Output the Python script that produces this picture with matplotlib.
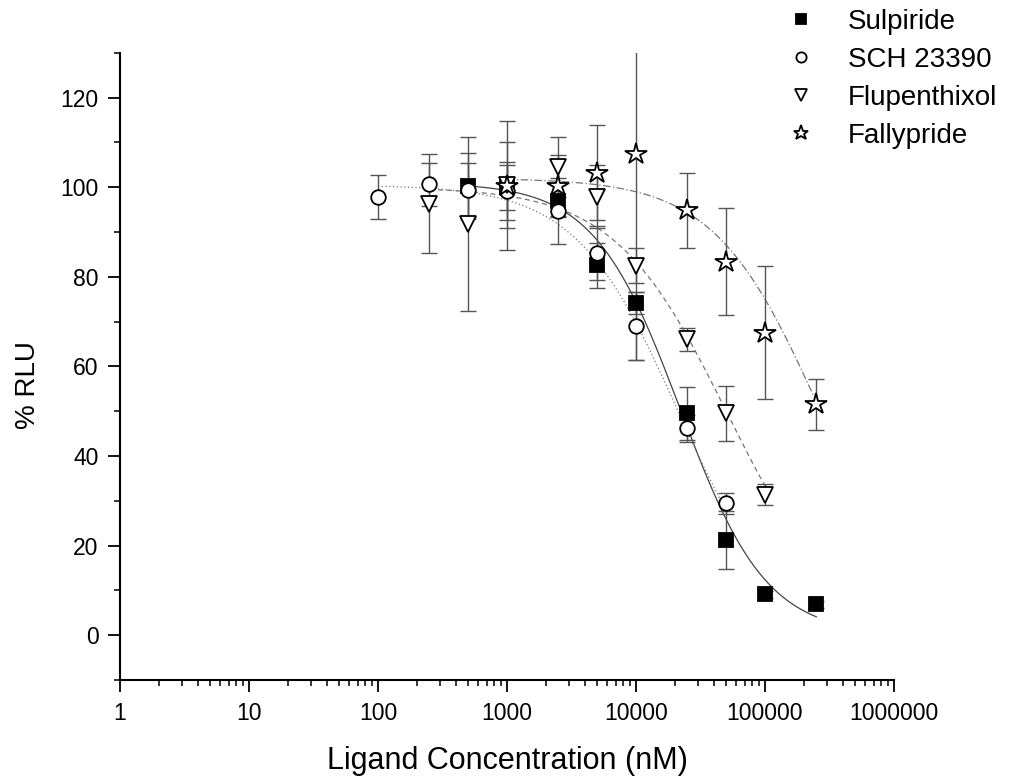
import numpy as np
import matplotlib
matplotlib.use("Agg")
import matplotlib.pyplot as plt
from matplotlib.ticker import FixedLocator, FuncFormatter, LogLocator, NullFormatter, MultipleLocator

plt.rcParams['font.family'] = ['Liberation Sans', 'DejaVu Sans']

# ---- data ----
series_names = ["Sulpiride", "SCH 23390", "Flupenthixol", "Fallypride"]

sul_x = [500, 1000, 2500, 5000, 10000, 25000, 50000, 100000, 250000]
sul_y = [100.2, 100.0, 97.0, 82.6, 74.2, 49.5, 21.2, 9.1, 6.9]
sul_e = [7.4, 5.0, 3.5, 5.0, 2.5, 6.0, 6.5, 0.8, 0.8]

sch_x = [100, 250, 500, 1000, 2500, 5000, 10000, 25000, 50000]
sch_y = [97.9, 100.6, 99.4, 99.2, 94.6, 85.3, 69.0, 46.2, 29.4]
sch_e = [4.9, 4.8, 6.0, 6.5, 7.4, 6.0, 7.5, 3.0, 2.4]

flu_x = [250, 500, 1000, 2500, 5000, 10000, 25000, 50000, 100000]
flu_y = [96.3, 91.8, 100.5, 104.5, 97.9, 82.5, 66.0, 49.5, 31.4]
flu_e = [11.0, 19.5, 9.6, 6.7, 7.0, 4.0, 2.6, 6.2, 2.4]

fal_x = [1000, 2500, 5000, 10000, 25000, 50000, 100000, 250000]
fal_y = [100.3, 100.3, 103.2, 107.5, 94.8, 83.4, 67.5, 51.5]
fal_e = [14.4, 6.9, 10.6, 46.0, 8.3, 12.0, 14.8, 5.7]

# fitted dose-response parameters (top, bottom, IC50, Hill) and plotted range
sul_fit = (101.0, 0.0, 22000.0, 1.3); sul_rng = (500, 250000)
sch_fit = (100.5, 0.0, 21000.0, 1.1); sch_rng = (100, 50000)
flu_fit = (100.0, 0.0, 50000.0, 1.0); flu_rng = (250, 100000)
fal_fit = (102.0, 0.0, 260000.0, 1.07); fal_rng = (1000, 250000)

x_ticks = [1, 10, 100, 1000, 10000, 100000, 1000000]
x_tick_labels = ["1", "10", "100", "1000", "10000", "100000", "1000000"]
y_ticks = [0, 20, 40, 60, 80, 100, 120]


def logistic(x, p):
    top, bottom, ic50, h = p
    return bottom + (top - bottom) / (1 + (x / ic50) ** h)


fig = plt.figure(figsize=(10.21, 7.81), dpi=100)
ax = fig.add_axes([0.1175, 0.1293, 0.8756 - 0.1175, 0.9325 - 0.1293])

err_col = '#555555'

# fitted curves
for p, rng, ls, col in [
    (sul_fit, sul_rng, '-', '#444444'),
    (sch_fit, sch_rng, (0, (1, 2)), '#777777'),
    (flu_fit, flu_rng, (0, (4, 3)), '#777777'),
    (fal_fit, fal_rng, (0, (6, 2, 1, 2)), '#777777'),
]:
    xs = np.logspace(np.log10(rng[0]), np.log10(rng[1]), 300)
    ax.plot(xs, logistic(xs, p), linestyle=ls, color=col, lw=0.9, zorder=2)

styles = [
    (sul_x, sul_y, sul_e, dict(marker='s', ms=9.5, mfc='black', mec='black')),
    (sch_x, sch_y, sch_e, dict(marker='o', ms=10.5, mfc='white', mec='black')),
    (flu_x, flu_y, flu_e, dict(marker='v', ms=12, mfc='white', mec='black')),
    (fal_x, fal_y, fal_e, dict(marker='*', ms=16, mfc='white', mec='black')),
]
handles = []
for xs, ys, es, st in styles:
    ax.errorbar(xs, ys, yerr=es, fmt='none', ecolor=err_col, elinewidth=1.0,
                capsize=6, capthick=1.0, zorder=3)
    h, = ax.plot(xs, ys, linestyle='none', mew=1.3, zorder=4, **st)
    handles.append(h)

ax.set_xscale('log')
ax.set_xlim(1, 1000000)
ax.set_ylim(-10, 130)

ax.xaxis.set_major_locator(FixedLocator(x_ticks))
ax.xaxis.set_major_formatter(FuncFormatter(lambda v, pos: x_tick_labels[x_ticks.index(int(round(v)))] if int(round(v)) in x_ticks else ""))
ax.xaxis.set_minor_locator(LogLocator(base=10, subs=np.arange(2, 10), numticks=20))
ax.xaxis.set_minor_formatter(NullFormatter())
ax.yaxis.set_major_locator(FixedLocator(y_ticks))
ax.yaxis.set_minor_locator(MultipleLocator(10))

for s in ['top', 'right']:
    ax.spines[s].set_visible(False)
for s in ['left', 'bottom']:
    ax.spines[s].set_linewidth(1.5)

ax.tick_params(which='major', direction='out', length=8.5, width=1.3, labelsize=16.5, pad=7)
ax.tick_params(which='minor', direction='out', length=4.5, width=1.1)

ax.set_xlabel("Ligand Concentration (nM)", fontsize=22)
ax.set_ylabel("% RLU", fontsize=20)
ax.xaxis.set_label_coords(0.5, -0.105)
ax.yaxis.set_label_coords(-0.102, 0.47)

fig.legend(handles, series_names, loc='upper left', bbox_to_anchor=(0.760, 1.003),
           frameon=False, fontsize=20, markerscale=0.7, handlelength=1.0,
           handletextpad=1.2, labelspacing=0.43, borderaxespad=0)

fig.savefig("out.png", dpi=100)
